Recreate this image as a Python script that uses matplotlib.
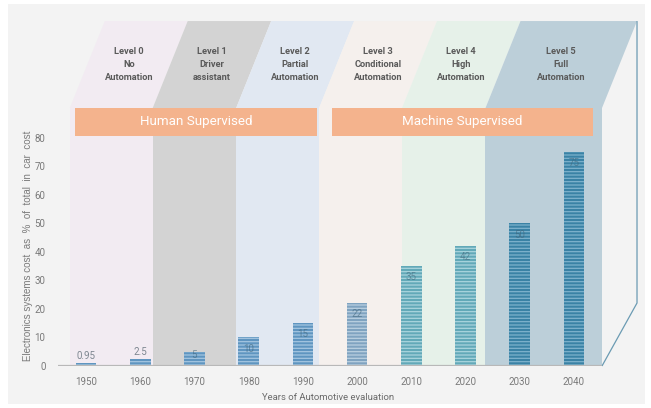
import numpy as np
import matplotlib
matplotlib.use('Agg')
import matplotlib.pyplot as plt
from matplotlib.patches import Polygon, Rectangle

# data
years = ['1950', '1960', '1970', '1980', '1990', '2000', '2010', '2020', '2030', '2040']
share = [0.95, 2.5, 5, 10, 15, 22, 35, 42, 50, 75]
levels = ['Level 0\nNo\nAutomation', 'Level 1\nDriver\nassistant', 'Level 2\nPartial\nAutomation',
          'Level 3\nConditional\nAutomation', 'Level 4\nHigh\nAutomation', 'Level 5\nFull\nAutomation']
supervision = ['Human Supervised', 'Machine Supervised']

# styles
band_edges = [-0.30, 1.23, 2.77, 4.30, 5.83, 7.37, 9.52]
band_colors = ['#f2ebf2', '#d3d3d3', '#e1e8f2', '#f5f0ed', '#e6f1e9', '#bccfd9']
bar_colors = ['#5f95c0'] * 5 + ['#7fa3c0'] + ['#62a9b8'] * 2 + ['#3a82a5'] * 2
stripe_colors = ['#a3c5e0'] * 5 + ['#b9cfe0'] + ['#a9d4dd'] * 2 + ['#7db2cc'] * 2
banner_spans = [(-0.20, 4.26), (4.54, 9.35)]

plt.rcParams['font.family'] = ['Roboto', 'DejaVu Sans']
plt.rcParams['hatch.linewidth'] = 0.9

fig = plt.figure(figsize=(6.51, 4.08), dpi=100)
fig.patch.set_facecolor('white')
fig.add_artist(Rectangle((8 / 651, 4 / 408), 637 / 651, 400 / 408, transform=fig.transFigure,
                         facecolor='#f3f3f3', edgecolor='none', zorder=-10))

ax = fig.add_axes([58 / 651, 42 / 408, 544 / 651, 258 / 408])
ax.set_facecolor('none')
x = np.arange(len(years))
ax.set_xlim(-0.517, 9.52)
ax.set_ylim(0, 90.5)

top = 121.0
shift = 0.646
# level columns + slanted heads
for k in range(len(levels)):
    e0, e1 = band_edges[k], band_edges[k + 1]
    ax.axvspan(e0, e1, color=band_colors[k], lw=0, zorder=0)
    ax.add_patch(Polygon([(e0, 90.5), (e1, 90.5), (e1 + shift, top), (e0 + shift, top)],
                         closed=True, facecolor=band_colors[k], edgecolor='none',
                         clip_on=False, zorder=0))
    ax.text((e0 + e1) / 2 + shift / 2, (90.5 + top) / 2, levels[k], ha='center', va='center',
            fontsize=6.7, fontweight='bold', color='#5a5a5a', linespacing=1.55, clip_on=False)

# side edge of the box
re = band_edges[-1]
ax.plot([re + shift, re + shift, re], [top, 22.1, 0], color='#6b9bb3', lw=0.9,
        clip_on=False, zorder=1, solid_capstyle='butt')

# supervision banners
for (b0, b1), lab in zip(banner_spans, supervision):
    ax.add_patch(Rectangle((b0, 80.7), b1 - b0, 9.8, facecolor='#f4b38d', edgecolor='none', zorder=2))
    ax.text((b0 + b1) / 2, 85.6, lab, ha='center', va='center', fontsize=9.6, color='white', zorder=3)

bars = ax.bar(x, share, width=0.38, color=bar_colors, edgecolor=stripe_colors, linewidth=0,
              hatch='-----', zorder=3)

for i, v in enumerate(share):
    if v < 3:
        ax.annotate(f'{v:g}', (i, v), xytext=(0, 1.5), textcoords='offset points',
                    ha='center', va='bottom', fontsize=7, color='#7d8690')
    else:
        yy = v * 0.78 if v < 8 else v - 3.9
        ax.text(i, yy, f'{v:g}', ha='center', va='center', fontsize=7,
                color='#3f6479', alpha=0.6, zorder=4)

ax.axhline(0, color='#b8b8b8', lw=1.6, zorder=4)

ax.set_xticks(x, years)
ax.set_yticks(range(0, 90, 10))
ax.tick_params(length=0, colors='#7a7a7a', labelsize=7)
ax.tick_params(axis='x', pad=8)
ax.tick_params(axis='y', pad=9)
for s in ax.spines.values():
    s.set_visible(False)

fig.text(28 / 651, 1 - 246 / 408, 'Electronics systems cost  as  %  of  total  in  car  cost',
         rotation=90, ha='center', va='center', fontsize=7, color='#7a7a7a',
         family=['Liberation Sans', 'DejaVu Sans'])
fig.text(328 / 651, 1 - 398 / 408, 'Years of Automotive evaluation', ha='center', va='center',
         fontsize=6.8, color='#6a6a6a')

fig.savefig('out.png', dpi=100)
